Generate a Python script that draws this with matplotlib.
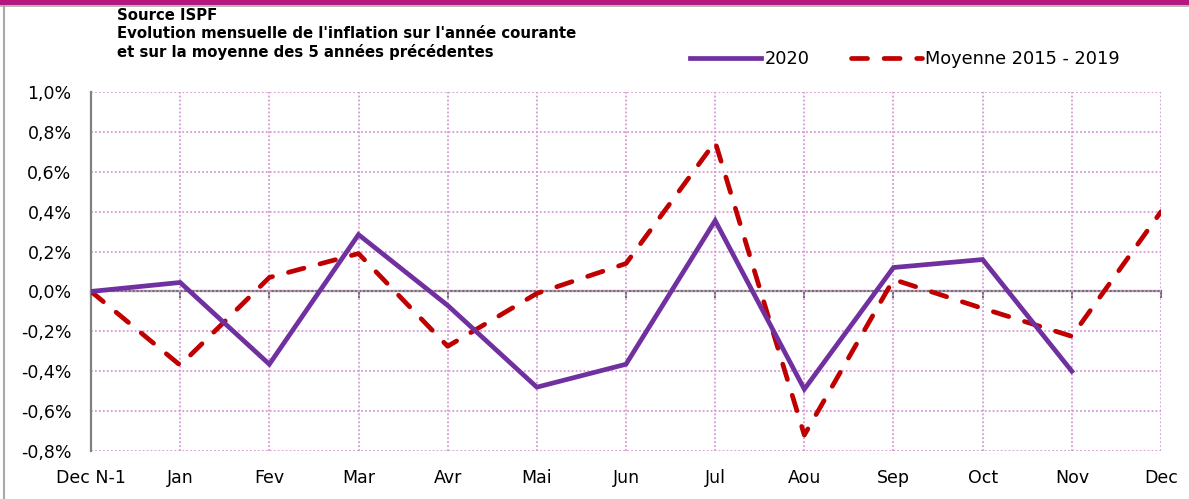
import matplotlib
matplotlib.use("Agg")
import matplotlib.pyplot as plt
from matplotlib.lines import Line2D
from matplotlib.patches import Rectangle
from matplotlib.ticker import FuncFormatter

plt.rcParams['font.family'] = ['DejaVu Sans']

months = ["Dec N-1", "Jan", "Fev", "Mar", "Avr", "Mai", "Jun", "Jul",
          "Aou", "Sep", "Oct", "Nov", "Dec"]
serie_2020 = [0.0, 0.045, -0.365, 0.285, -0.07, -0.48, -0.365, 0.355,
              -0.49, 0.12, 0.16, -0.40]
moyenne_2015_2019 = [0.0, -0.37, 0.07, 0.19, -0.275, -0.01, 0.14, 0.75,
                     -0.72, 0.06, -0.085, -0.225, 0.40]
y_ticks = [-0.8, -0.6, -0.4, -0.2, 0.0, 0.2, 0.4, 0.6, 0.8, 1.0]
title_lines = ["Source ISPF",
               "Evolution mensuelle de l'inflation sur l'année courante",
               "et sur la moyenne des 5 années précédentes"]

W, H = 1189, 499
fig = plt.figure(figsize=(W / 100, H / 100), dpi=100)
fig.patch.set_facecolor('white')

# frame decorations
fig.patches.append(Rectangle((0, 1 - 4.5 / H), 1, 4.5 / H, transform=fig.transFigure,
                             facecolor='#B4187E', edgecolor='none', zorder=5))
fig.lines.append(Line2D([0, 1], [1 - 5.5 / H, 1 - 5.5 / H], transform=fig.transFigure,
                        color='#A8A8A8', lw=1.2, zorder=5))
fig.lines.append(Line2D([3.5 / W, 3.5 / W], [0, 1 - 5 / H], transform=fig.transFigure,
                        color='#A8A8A8', lw=1.5, zorder=5))

ax = fig.add_axes([91 / W, (H - 451) / H, 1070 / W, 359 / H])
x = list(range(len(months)))
ymin, ymax = -0.8, 1.0
ax.set_xlim(0, len(months) - 1)
ax.set_ylim(ymin, ymax)

ax.plot(x[:len(serie_2020)], serie_2020, color='#7030A0', lw=3.4,
        solid_joinstyle='miter', label='2020', zorder=4)
ax.plot(x, moyenne_2015_2019, color='#C00000', lw=3.4, linestyle=(0, (3.4, 3.5)),
        dash_capstyle='round', label='Moyenne 2015 - 2019', zorder=3)

ax.set_xticks(x)
ax.set_xticklabels(months)
ax.set_yticks(y_ticks)
ax.yaxis.set_major_formatter(FuncFormatter(lambda v, p: f"{v:.1f}%".replace('.', ',')))
ax.tick_params(axis='both', length=0, labelsize=12.5, colors='black')
ax.tick_params(axis='y', pad=14)
ax.tick_params(axis='x', pad=13)

ax.grid(True, color='#D598D5', linestyle=(0, (1, 1.2)), lw=1.3)
ax.set_axisbelow(True)
for s in ['top', 'right', 'bottom']:
    ax.spines[s].set_visible(False)
ax.spines['left'].set_color('#808080')
ax.spines['left'].set_linewidth(1.6)

# zero line with tick marks
sec = ax.secondary_xaxis((0 - ymin) / (ymax - ymin))
sec.set_xticks(x)
sec.tick_params(axis='x', direction='out', length=5, width=1.5, color='#707070',
                labelbottom=False, labeltop=False)
for s in sec.spines.values():
    s.set_color('#707070')
    s.set_linewidth(1.6)

# title
for i, t in enumerate(title_lines):
    fig.text(117 / W, 1 - (16 + 18 * i) / H, t, fontsize=10.7, fontweight='bold',
             ha='left', va='center', color='black')

# legend
fig.legend(loc='center left', bbox_to_anchor=(690 / W, 1 - 59 / H), ncol=2,
           frameon=False, fontsize=12.8, handlelength=4.0, handletextpad=0.2,
           columnspacing=2.3, borderpad=0, borderaxespad=0)

fig.savefig('out.png', dpi=100)
